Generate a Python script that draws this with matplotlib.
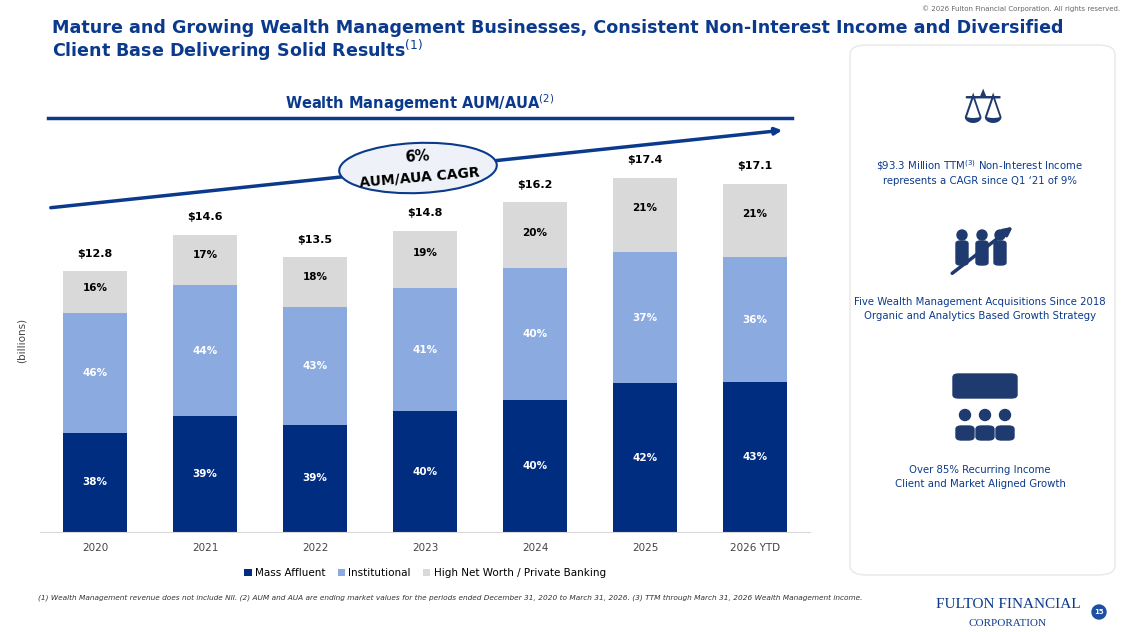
import matplotlib.pyplot as plt
from matplotlib.patches import FancyBboxPatch, Ellipse, FancyArrowPatch
import numpy as np

years = ['2020', '2021', '2022', '2023', '2024', '2025', '2026 YTD']
totals = [12.8, 14.6, 13.5, 14.8, 16.2, 17.4, 17.1]
mass_affluent = [38, 39, 39, 40, 40, 42, 43]
institutional = [46, 44, 43, 41, 40, 37, 36]
high_net_worth = [16, 17, 18, 19, 20, 21, 21]

navy = '#002D80'
light_blue = '#8AAAE0'
grey = '#D9D9D9'
title_blue = '#0B3A8C'

W, H = 1127, 632
fig = plt.figure(figsize=(W / 100, H / 100), dpi=100)

def fx(px):
    return px / W

def fy(py):
    return 1 - py / H

# slide text
fig.text(fx(52), fy(28), 'Mature and Growing Wealth Management Businesses, Consistent Non-Interest Income and Diversified',
         fontsize=12.6, fontweight='bold', color=title_blue, va='center')
fig.text(fx(52), fy(50), 'Client Base Delivering Solid Results$^{(1)}$',
         fontsize=12.6, fontweight='bold', color=title_blue, va='center')
fig.text(fx(1120), fy(9), '© 2026 Fulton Financial Corporation. All rights reserved.',
         fontsize=5, color='#666666', ha='right', va='center')
fig.text(fx(420), fy(103), 'Wealth Management AUM/AUA$^{(2)}$', fontsize=10.5, fontweight='bold',
         color=title_blue, ha='center', va='center')
fig.add_artist(plt.Line2D([fx(48), fx(792)], [fy(118), fy(118)], color=title_blue, lw=2.5))

# chart
ax = fig.add_axes([fx(40), fy(532), fx(770), (532 - 145) / H])
x = np.arange(len(years))
tot = np.array(totals)
ma = tot * np.array(mass_affluent) / 100
inst = tot * np.array(institutional) / 100
hnw = tot * np.array(high_net_worth) / 100
w = 0.59
ax.bar(x, ma, w, color=navy, label='Mass Affluent')
ax.bar(x, inst, w, bottom=ma, color=light_blue, label='Institutional')
ax.bar(x, hnw, w, bottom=ma + inst, color=grey, label='High Net Worth / Private Banking')
for i in range(len(years)):
    ax.text(x[i], ma[i] / 2, f'{mass_affluent[i]}%', ha='center', va='center', color='white',
            fontsize=7.5, fontweight='bold')
    ax.text(x[i], ma[i] + inst[i] / 2, f'{institutional[i]}%', ha='center', va='center', color='white',
            fontsize=7.5, fontweight='bold')
    ax.text(x[i], tot[i] - hnw[i] * 0.4 if i < 4 else tot[i] - 1.5, f'{high_net_worth[i]}%', ha='center',
            va='center', color='black', fontsize=7.5, fontweight='bold')
    ax.text(x[i], tot[i] + 0.85, f'${totals[i]}', ha='center', va='center', fontsize=8, fontweight='bold')
ax.set_xlim(-0.5, len(years) - 0.5)
ax.set_ylim(0, 19)
ax.set_xticks(x)
ax.set_xticklabels(years, fontsize=7.5, color='#444444')
ax.tick_params(axis='x', length=0, pad=8)
ax.set_yticks([])
for s in ['top', 'right', 'left']:
    ax.spines[s].set_visible(False)
ax.spines['bottom'].set_color('#D9D9D9')
ax.patch.set_alpha(0)
ax.legend(loc='upper center', bbox_to_anchor=(0.5, -0.07), ncol=3, frameon=False, fontsize=7.5,
          handlelength=0.7, handleheight=0.7, handletextpad=0.3, columnspacing=1.2)
fig.text(fx(22), fy(340), '(billions)', rotation=90, fontsize=7.5, color='#444444', ha='center', va='center')

# CAGR arrow and ellipse
fig.add_artist(FancyArrowPatch((fx(48), fy(208)), (fx(785), fy(130)), transform=fig.transFigure,
                               arrowstyle='-|>', mutation_scale=10, color=title_blue, lw=2.5))
fig.add_artist(Ellipse((fx(418), fy(168)), fx(158), 50 / H, angle=5, transform=fig.transFigure,
                       facecolor='#EEF2F8', edgecolor=title_blue, lw=1.5, zorder=5))
fig.text(fx(417), fy(157), '6%', fontsize=10.5, fontweight='bold', ha='center', va='center', zorder=6,
         rotation=4)
fig.text(fx(420), fy(177), 'AUM/AUA CAGR', fontsize=10, fontweight='bold', ha='center', va='center',
         zorder=6, rotation=5)

# right panel
fig.add_artist(FancyBboxPatch((fx(850), fy(575)), fx(265), 530 / H, boxstyle='round,pad=0,rounding_size=0.015',
                              transform=fig.transFigure, facecolor='white', edgecolor='#E8E8E8', lw=1.0,
                              zorder=0))
panel_texts = [
    (172, '\\$93.3 Million TTM$^{(3)}$ Non-Interest Income\nrepresents a CAGR since Q1 ‘21 of 9%'),
    (309, 'Five Wealth Management Acquisitions Since 2018\nOrganic and Analytics Based Growth Strategy'),
    (477, 'Over 85% Recurring Income\nClient and Market Aligned Growth'),
]
for py, t in panel_texts:
    fig.text(fx(980), fy(py), t, fontsize=7.3, color=title_blue, ha='center', va='center', linespacing=1.4)
# simple icons
fig.text(fx(982), fy(110), '⚖', fontsize=34, color='#1F3A6E', ha='center', va='center')
fig.add_artist(FancyArrowPatch((fx(950), fy(275)), (fx(1015), fy(225)), transform=fig.transFigure,
                               arrowstyle='-|>', mutation_scale=12, color='#1F3A6E', lw=2.5))
for cx in [962, 982, 1000]:
    fig.add_artist(Ellipse((fx(cx), fy(235)), fx(10), 10 / H, transform=fig.transFigure, color='#1F3A6E'))
    fig.add_artist(FancyBboxPatch((fx(cx - 6), fy(265)), fx(12), 24 / H, boxstyle='round,pad=0,rounding_size=0.004',
                                  transform=fig.transFigure, color='#1F3A6E'))
fig.add_artist(FancyBboxPatch((fx(953), fy(398)), fx(64), 24 / H, boxstyle='round,pad=0,rounding_size=0.005',
                              transform=fig.transFigure, color='#1F3A6E'))
for cx in [965, 985, 1005]:
    fig.add_artist(Ellipse((fx(cx), fy(415)), fx(11), 11 / H, transform=fig.transFigure, color='#1F3A6E'))
    fig.add_artist(FancyBboxPatch((fx(cx - 9), fy(440)), fx(18), 14 / H, boxstyle='round,pad=0,rounding_size=0.005',
                                  transform=fig.transFigure, color='#1F3A6E'))

# footer
fig.text(fx(38), fy(598), '(1) Wealth Management revenue does not include NII. (2) AUM and AUA are ending market values for the periods '
         'ended December 31, 2020 to March 31, 2026. (3) TTM through March 31, 2026 Wealth Management income.',
         fontsize=5.3, style='italic', color='#333333', va='center')
fig.text(fx(1008), fy(605), 'FULTON FINANCIAL', fontsize=11, family='Liberation Serif', color=title_blue,
         ha='center', va='center')
fig.text(fx(1008), fy(623), 'CORPORATION', fontsize=8, family='Liberation Serif', color=title_blue,
         ha='center', va='center')
fig.add_artist(Ellipse((fx(1099), fy(612)), fx(14), 14 / H, transform=fig.transFigure, color='#1F4FA0'))
fig.text(fx(1099), fy(612), '15', fontsize=5, color='white', ha='center', va='center', fontweight='bold')

fig.savefig('out.png', dpi=100)
